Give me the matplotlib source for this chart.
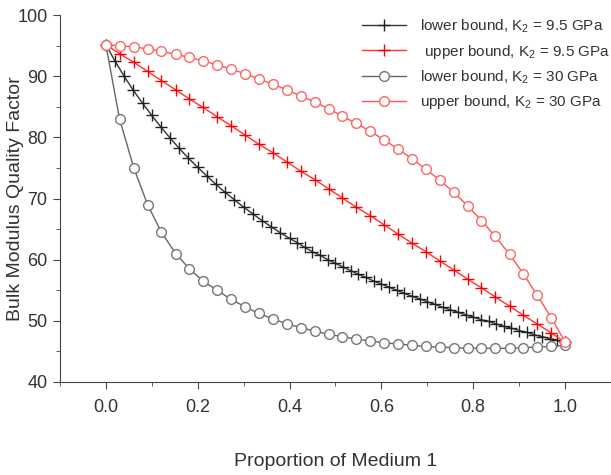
import matplotlib
matplotlib.use('Agg')
import matplotlib.pyplot as plt
from matplotlib.ticker import MultipleLocator

plt.rcParams['font.family'] = ['Liberation Sans', 'DejaVu Sans']
plt.rcParams['mathtext.default'] = 'regular'

# lower bound, K2 = 9.5 GPa (black crosses)
x_lo95 = [0, 0.02, 0.04, 0.06, 0.08, 0.10, 0.12, 0.14, 0.16, 0.18, 0.20,
          0.22, 0.24, 0.26, 0.28, 0.30, 0.32, 0.34, 0.36, 0.38,
          0.4, 0.4167, 0.4333, 0.45, 0.4667, 0.4833, 0.5, 0.5167, 0.5333,
          0.55, 0.5667, 0.5833, 0.6, 0.6167, 0.6333, 0.65, 0.6667, 0.6833,
          0.7, 0.7167, 0.7333, 0.75, 0.7667, 0.7833, 0.8, 0.8167, 0.8333,
          0.85, 0.8667, 0.8833, 0.9, 0.9167, 0.9333, 0.95, 0.9667, 0.9833, 1.0]
y_lo95 = [95.2, 92.5, 90.0, 87.7, 85.6, 83.6, 81.7, 79.9, 78.2, 76.6, 75.1,
          73.7, 72.3, 71.0, 69.8, 68.6, 67.5, 66.4, 65.4, 64.4,
          63.5, 62.8, 62.0, 61.3, 60.7, 60.0, 59.4, 58.8, 58.2,
          57.6, 57.1, 56.5, 56.0, 55.5, 55.0, 54.5, 54.0, 53.6,
          53.1, 52.7, 52.2, 51.8, 51.4, 51.0, 50.6, 50.2, 49.9,
          49.5, 49.1, 48.8, 48.4, 48.1, 47.7, 47.4, 47.1, 46.8, 46.5]

# proportions for the other three series (34 points)
x_33 = [0.0, 0.030, 0.061, 0.091, 0.121, 0.152, 0.182, 0.212, 0.242, 0.273,
        0.303, 0.333, 0.364, 0.394, 0.424, 0.455, 0.485, 0.515, 0.545, 0.576,
        0.606, 0.636, 0.667, 0.697, 0.727, 0.758, 0.788, 0.818, 0.848, 0.879,
        0.909, 0.939, 0.970, 1.0]

# upper bound, K2 = 9.5 GPa (red crosses)
y_up95 = [95.2, 93.7, 92.3, 90.8, 89.3, 87.8, 86.3, 84.9, 83.4, 81.9,
          80.4, 78.9, 77.5, 76.0, 74.5, 73.1, 71.6, 70.1, 68.6, 67.2,
          65.7, 64.2, 62.7, 61.3, 59.8, 58.3, 56.8, 55.4, 53.9, 52.4,
          50.9, 49.5, 48.0, 46.5]

# lower bound, K2 = 30 GPa (grey circles)
y_lo30 = [95.2, 83.0, 75.0, 69.0, 64.5, 61.0, 58.5, 56.5, 55.0, 53.5,
          52.3, 51.2, 50.3, 49.5, 48.9, 48.3, 47.8, 47.4, 47.0, 46.7,
          46.4, 46.2, 46.0, 45.8, 45.7, 45.6, 45.5, 45.5, 45.5, 45.5,
          45.6, 45.7, 45.8, 46.0]

# upper bound, K2 = 30 GPa (red circles)
y_up30 = [95.2, 95.0, 94.8, 94.5, 94.1, 93.6, 93.1, 92.5, 91.9, 91.2,
          90.4, 89.6, 88.7, 87.8, 86.8, 85.8, 84.7, 83.5, 82.3, 81.0,
          79.6, 78.1, 76.5, 74.8, 73.0, 71.0, 68.8, 66.4, 63.8, 60.9,
          57.7, 54.2, 50.5, 46.5]

fig = plt.figure(figsize=(6.11, 4.75), dpi=100)
ax = fig.add_axes([0.098, 0.196, 0.902, 0.772])

ax.plot(x_lo95, y_lo95, color='#333333', lw=1, marker='+', ms=8, mew=1,
        mec='#222222', label='lower bound, K$_2$ = 9.5 GPa')
ax.plot(x_33, y_up95, color='#ff3333', lw=1, marker='+', ms=8, mew=1,
        mec='#ff0000', label=' upper bound, K$_2$ = 9.5 GPa')
ax.plot(x_33, y_lo30, color='#666666', lw=1, marker='o', ms=7, mew=1,
        mfc='white', mec='#777777', label='lower bound, K$_2$ = 30 GPa')
ax.plot(x_33, y_up30, color='#ff5555', lw=1, marker='o', ms=7, mew=1,
        mfc='white', mec='#ff6666', label='upper bound, K$_2$ = 30 GPa')

ax.set_xlim(-0.1, 1.1)
ax.set_ylim(40, 100)
ax.xaxis.set_major_locator(MultipleLocator(0.2))
ax.xaxis.set_minor_locator(MultipleLocator(0.1))
ax.yaxis.set_major_locator(MultipleLocator(10))
ax.yaxis.set_minor_locator(MultipleLocator(5))
ax.set_xticks([0.0, 0.2, 0.4, 0.6, 0.8, 1.0])
ax.set_xticklabels(['0.0', '0.2', '0.4', '0.6', '0.8', '1.0'])

for side in ['top', 'right']:
    ax.spines[side].set_visible(False)
for side in ['left', 'bottom']:
    ax.spines[side].set_color('#444444')
ax.tick_params(which='major', length=5, direction='out', colors='#444444',
               labelsize=13, labelcolor='#333333', pad=4)
ax.tick_params(axis='x', which='major', pad=7)
ax.tick_params(which='minor', length=3, direction='out', colors='#444444')

ax.set_xlabel('Proportion of Medium 1', fontsize=14, color='#333333')
ax.set_ylabel('Bulk Modulus Quality Factor', fontsize=14, color='#333333')
ax.xaxis.set_label_coords(0.5, -0.195)
ax.yaxis.set_label_coords(-0.066, 0.5)

leg = ax.legend(loc='upper right', bbox_to_anchor=(1.024, 1.031), frameon=False,
                fontsize=11, handlelength=2.9, labelspacing=0.5,
                handletextpad=0.9)
for t in leg.get_texts():
    t.set_color('#333333')

fig.savefig('out.png', dpi=100)
